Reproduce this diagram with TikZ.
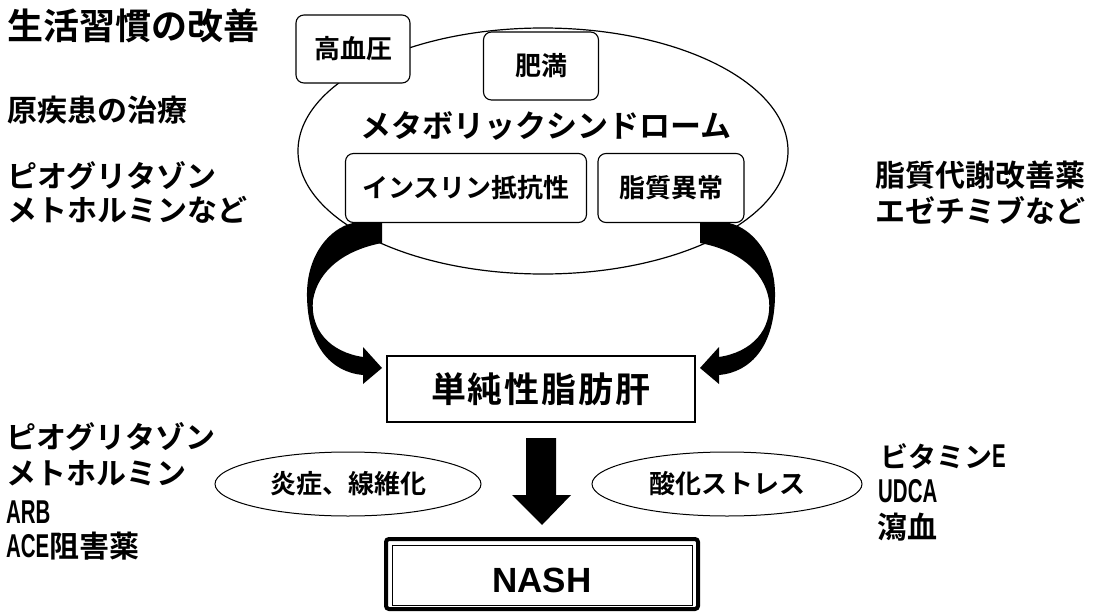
\documentclass[tikz,border=0pt]{standalone}
\usepackage{fontspec}
\setmainfont{Noto Sans CJK JP}[BoldFont=* Bold]
\newfontfamily\narrowfont{Liberation Sans}[FakeStretch=0.62]
\newfontfamily\arialfont{Liberation Sans}
\usetikzlibrary{shapes.geometric}
\begin{document}
\begin{tikzpicture}[x=1pt,y=-1pt,
  lbl/.style={inner sep=0pt, anchor=west, font=\bfseries\fontsize{30}{36}\selectfont},
  narrowlbl/.style={inner sep=0pt, anchor=west, font=\narrowfont\bfseries\fontsize{33}{38}\selectfont},
  rbox/.style={draw, line width=1.1pt, rounded corners=8pt, fill=white, inner sep=0pt,
     font=\bfseries\fontsize{26}{30}\selectfont},
  oval/.style={draw, ellipse, line width=1pt, inner sep=0pt, fill=white,
     font=\bfseries\fontsize{26}{30}\selectfont},
  curvedarrow/.pic={
    \fill (353,223) -- (382,223) -- (382,243)
      .. controls (345,250) and (318,270) .. (313,300)
      .. controls (310,330) and (330,352) .. (363,357)
      -- (363,347) -- (382,368) -- (363,384) -- (363,375)
      .. controls (330,372) and (308,345) .. (307,297)
      .. controls (306,255) and (330,228) .. (353,223) -- cycle;
  }]
\useasboundingbox (0,0) rectangle (1104,613);

% left texts
\node[lbl, font=\bfseries\fontsize{36}{40}\selectfont] (t1) at (7,26) {生活習慣の改善};
\node[lbl] (t2) at (7,110) {原疾患の治療};
\node[lbl] (t3) at (7,176) {ピオグリタゾン};
\node[lbl] (t4) at (7,210) {メトホルミンなど};
\node[lbl] (t5) at (875,175) {脂質代謝改善薬};
\node[lbl] (t6) at (875,210) {エゼチミブなど};

\node[lbl] (b1) at (6,437) {ピオグリタゾン};
\node[lbl] (b2) at (6,473) {メトホルミン};
\node[narrowlbl] (b3) at (6,512) {ARB};
\node[lbl] (b4) at (6,546) {{\narrowfont\fontsize{33}{38}\selectfont ACE}阻害薬};

\node[lbl, font=\bfseries\fontsize{28}{34}\selectfont] (r1) at (880,456) {ビタミン{\narrowfont\fontsize{33}{38}\selectfont E}};
\node[narrowlbl] (r2) at (878,491) {UDCA};
\node[lbl] (r3) at (877,527) {瀉血};

% metabolic syndrome ellipse
\node[draw, ellipse, line width=1.2pt, inner sep=0pt, minimum width=490pt, minimum height=246pt] (ms) at (543,151) {};
\node[rbox, minimum width=114pt, minimum height=68pt] (kk) at (353,49) {高血圧};
\node[rbox, minimum width=115pt, minimum height=68pt] (hm) at (541,66) {肥満};
\node[inner sep=0pt, font=\bfseries\fontsize{31}{36}\selectfont] (mt) at (546,126) {メタボリックシンドローム};
\node[rbox, minimum width=241pt, minimum height=69pt] (ir) at (466,188) {インスリン抵抗性};
\node[rbox, minimum width=146pt, minimum height=69pt] (dl) at (671,188) {脂質異常};

% curved arrows
\pic (la) at (0,0) {curvedarrow};
\pic[xscale=-1] (ra) at (1082,0) {curvedarrow};

% simple fatty liver
\node[draw, line width=1.2pt, inner sep=0pt, minimum width=308pt, minimum height=66pt,
  font=\bfseries\fontsize{35}{40}\selectfont] (sf) at (541,389) {単\kern2pt 純\kern2pt 性\kern2pt 脂\kern2pt 肪\kern2pt 肝};

% down arrow
\fill (526,438) -- (556,438) -- (556,495) -- (571,495) -- (542,525) -- (512,495) -- (526,495) -- cycle;

% ovals
\node[oval, minimum width=266pt, minimum height=64pt] (en) at (348,484) {炎症、線維化};
\node[oval, minimum width=270pt, minimum height=64pt] (sk) at (727,484) {酸化ストレス};

% NASH
\node[draw, line width=4pt, rounded corners=3pt, inner sep=0pt, minimum width=312pt, minimum height=70pt] (nasho) at (542,574) {};
\node[draw, line width=1pt, inner sep=0pt, minimum width=300pt, minimum height=60pt] (nashi) at (542,575) {};
\node[inner sep=0pt, font=\arialfont\bfseries\fontsize{35}{40}\selectfont] (nash) at (542,580) {NASH};
\end{tikzpicture}
\end{document}
